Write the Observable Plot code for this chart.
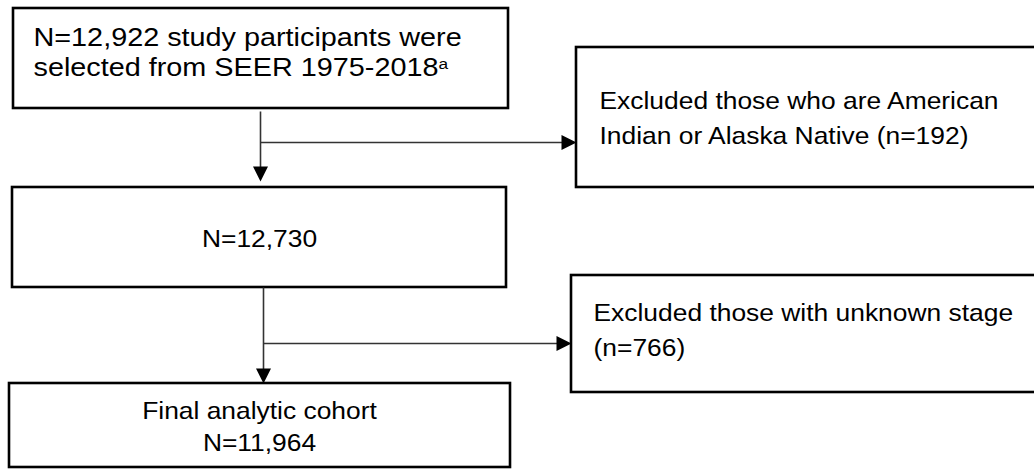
<!DOCTYPE html>
<html><head><meta charset="utf-8">
<script src="https://cdn.jsdelivr.net/npm/d3@7"></script>
<script src="https://cdn.jsdelivr.net/npm/@observablehq/plot@0.6"></script>
<style>html,body{margin:0;padding:0;background:#fff;overflow:hidden}</style>
</head><body><div id="chart"></div>
<script>
// ---- data ----
const sourceLabel = "SEER 1975-2018";
const stepCounts = [12922, 12730, 11964];
const exclusionCounts = [192, 766];
const exclusionLines = [
  ["Excluded those who are American", "Indian or Alaska Native"],
  ["Excluded those with unknown stage", ""]
];
const footnoteMarks = ["a"];

// ---- layout (pixel coordinates of the diagram) ----
const fmt = d3.format(",");
const boxes = [
  {x1: 13, x2: 508, y1: 8, y2: 108},
  {x1: 576, x2: 1040, y1: 47, y2: 187},
  {x1: 12, x2: 506, y1: 187, y2: 287},
  {x1: 571, x2: 1040, y1: 275, y2: 392},
  {x1: 9, x2: 510, y1: 383, y2: 467}
];
const topLines = [
  {text: `N=${fmt(stepCounts[0])} study participants were`, x: 33, y: 45},
  {text: `selected from ${sourceLabel}`, x: 33, y: 75, sup: footnoteMarks[0]}
];
const leftLines = [
  {text: exclusionLines[0][0], x: 599, y: 108},
  {text: `${exclusionLines[0][1]} (n=${exclusionCounts[0]})`, x: 599, y: 143},
  {text: exclusionLines[1][0], x: 593, y: 320},
  {text: `${exclusionLines[1][1]}(n=${exclusionCounts[1]})`, x: 593, y: 355}
];
const centerLines = [
  {text: `N=${fmt(stepCounts[1])}`, x: 259, y: 246},
  {text: "Final analytic cohort", x: 259, y: 418},
  {text: `N=${fmt(stepCounts[2])}`, x: 259, y: 450}
];
const links = [
  {x1: 260, y1: 111, x2: 260, y2: 172},
  {x1: 260, y1: 142, x2: 566, y2: 142},
  {x1: 263, y1: 287, x2: 263, y2: 374},
  {x1: 263, y1: 343, x2: 561, y2: 343}
];
const heads = [
  {x: 260, y: 181, rot: 0},
  {x: 576, y: 142, rot: -90},
  {x: 263, y: 383, rot: 0},
  {x: 571, y: 343, rot: -90}
];
const arrowHead = {
  draw(ctx) { ctx.moveTo(0, 0); ctx.lineTo(-7.5, -15); ctx.lineTo(7.5, -15); ctx.closePath(); }
};
const FONT = "'Liberation Sans', Arial, Helvetica, sans-serif";
const FS = 24;
const FS_TOP = 25.5;
const STRETCH = 1.1;
const STRETCH_TOP = 1.13;

const chart = Plot.plot({
  width: 1034, height: 469, margin: 0,
  x: {domain: [0, 1034], range: [0, 1034], axis: null},
  y: {domain: [0, 469], range: [0, 469], axis: null},
  style: {fontFamily: FONT, background: "#fff"},
  marks: [
    Plot.rect(boxes, {x1: "x1", x2: "x2", y1: "y1", y2: "y2", fill: "#fff", stroke: "#000", strokeWidth: 2.6}),
    Plot.link(links, {x1: "x1", y1: "y1", x2: "x2", y2: "y2", stroke: "#333", strokeWidth: 1.6}),
    Plot.dot(heads, {x: "x", y: "y", rotate: "rot", symbol: arrowHead, fill: "#000", stroke: null}),
    Plot.text(topLines, {x: "x", y: "y", text: "text", textAnchor: "start", lineAnchor: "bottom", fontSize: FS_TOP, fill: "#000", className: "top-text"}),
    Plot.text(leftLines, {x: "x", y: "y", text: "text", textAnchor: "start", lineAnchor: "bottom", fontSize: FS, fill: "#000"}),
    Plot.text(centerLines, {x: "x", y: "y", text: "text", textAnchor: "middle", lineAnchor: "bottom", fontSize: FS, fill: "#000"})
  ]
});
document.getElementById("chart").appendChild(chart);

// horizontal stretch of the lettering + superscript footnote mark
d3.select(chart).selectAll("text").each(function() {
  const t = this;
  const isTop = topLines.some(l => l.text === t.textContent);
  const tr = t.getAttribute("transform");
  if (tr) t.setAttribute("transform", tr + ` scale(${isTop ? STRETCH_TOP : STRETCH},1)`);
  const line = topLines.find(l => l.text === t.textContent && l.sup);
  if (line) {
    d3.select(t).append("tspan").attr("dy", "-0.45em").attr("font-size", "0.6em").text(line.sup);
  }
});
</script></body></html>
